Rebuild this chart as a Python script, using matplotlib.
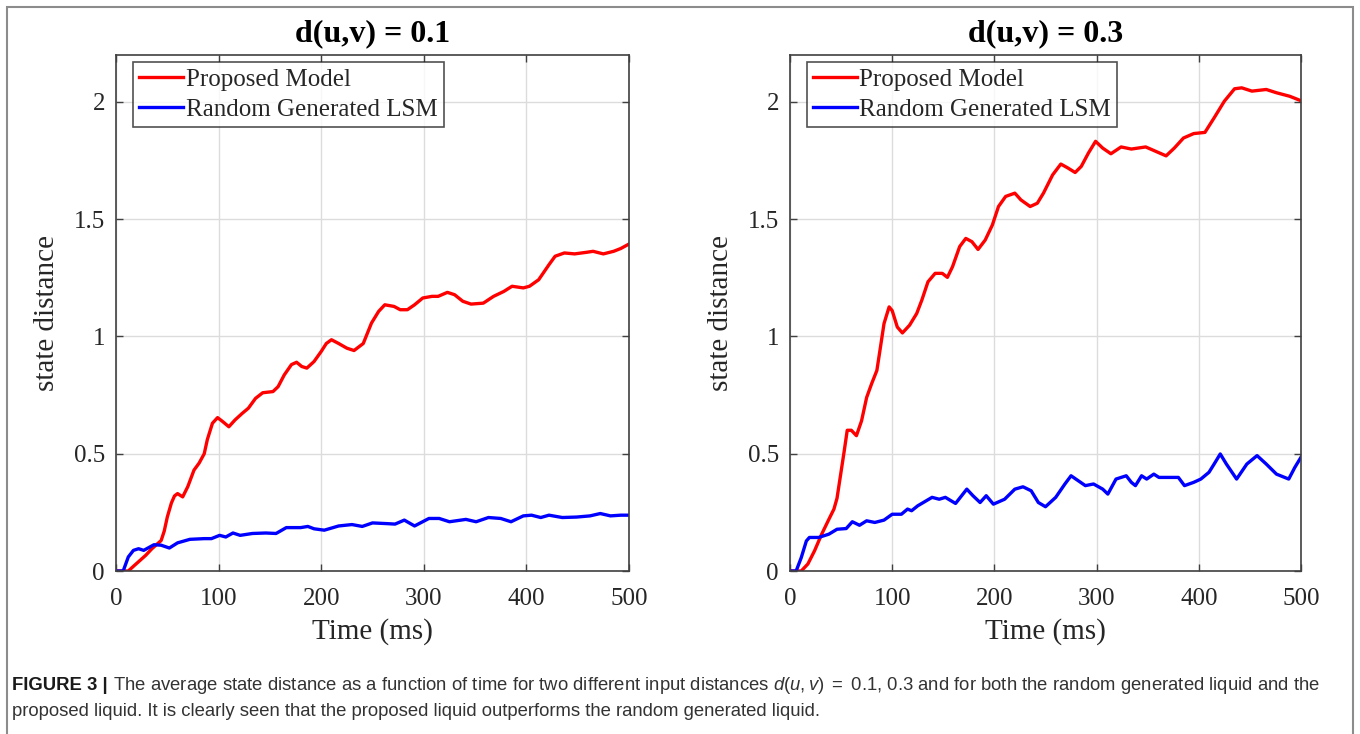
import numpy as np
import matplotlib
matplotlib.use("Agg")
import matplotlib.pyplot as plt
from matplotlib.patches import Rectangle

# d(u,v) = 0.1
t_red_1 = [0, 5, 12, 18, 29, 35, 44, 47, 50, 54, 57, 60, 65, 70, 76, 81, 86, 89, 94, 99,
           104, 110, 116, 123, 129, 136, 143, 153, 158, 164, 171, 176, 181, 186, 193, 200,
           205, 210, 217, 225, 232, 241, 249, 256, 262, 271, 277, 284, 291, 299, 308, 314,
           323, 330, 338, 346, 358, 368, 378, 386, 397, 403, 412, 422, 428, 437, 447, 459,
           465, 475, 485, 492, 500]
y_red_1 = [0, 0, 0, .024, .067, .095, .13, .17, .23, .29, .32, .33, .316, .36, .43, .46, .50,
           .56, .63, .654, .637, .615, .644, .672, .694, .736, .76, .765, .786, .836, .88,
           .89, .872, .865, .893, .936, .97, .986, .97, .95, .94, .97, 1.057, 1.107, 1.135,
           1.128, 1.114, 1.114, 1.135, 1.164, 1.171, 1.171, 1.188, 1.178, 1.15, 1.138,
           1.142, 1.171, 1.192, 1.214, 1.207, 1.214, 1.242, 1.306, 1.342, 1.356, 1.352,
           1.359, 1.363, 1.352, 1.363, 1.375, 1.394]
t_blue_1 = [0, 7, 12, 17, 22, 27, 32, 37, 44, 52, 60, 72, 86, 93, 101, 107, 114, 121, 133,
            146, 156, 166, 180, 187, 193, 203, 217, 230, 240, 250, 264, 272, 281, 291, 305,
            315, 325, 341, 351, 363, 375, 385, 397, 405, 414, 422, 435, 449, 462, 472, 482,
            492, 500]
y_blue_1 = [0, 0, .06, .088, .095, .088, .10, .112, .11, .098, .12, .135, .138, .138, .152,
            .145, .162, .152, .16, .162, .16, .185, .185, .19, .18, .174, .192, .198, .19,
            .205, .202, .20, .217, .192, .224, .224, .21, .22, .21, .228, .224, .21, .235,
            .238, .228, .238, .228, .23, .235, .245, .235, .238, .238]

# d(u,v) = 0.3
t_red_3 = [0, 4, 11, 17.5, 24, 31, 38, 43, 46, 49.5, 53, 56, 60, 65, 70, 75, 80, 85, 88,
           92, 97, 100, 105, 110, 117, 124, 129, 135, 142, 149, 154, 159, 166, 172, 178,
           184, 191, 198, 204, 211, 220, 226, 235, 242, 248, 257, 265, 272, 279, 285, 292,
           299, 306, 314, 324, 334, 348, 358, 368, 376, 385, 395, 406, 415, 425, 435, 442,
           452, 466, 476, 489, 500]
y_red_3 = [0, 0, 0, .03, .086, .157, .22, .264, .31, .41, .51, .6, .6, .577, .64, .74, .80,
           .855, .94, 1.055, 1.126, 1.11, 1.04, 1.015, 1.048, 1.098, 1.155, 1.233, 1.269,
           1.269, 1.252, 1.297, 1.383, 1.418, 1.404, 1.371, 1.411, 1.475, 1.554, 1.597,
           1.611, 1.582, 1.554, 1.568, 1.611, 1.689, 1.735, 1.718, 1.699, 1.725, 1.782,
           1.832, 1.803, 1.779, 1.808, 1.799, 1.808, 1.789, 1.77, 1.803, 1.846, 1.865,
           1.87, 1.932, 2.003, 2.056, 2.06, 2.046, 2.053, 2.039, 2.024, 2.005]
t_blue_3 = [0, 6, 11, 16, 19, 28, 38, 46, 55, 61, 68, 75, 83, 92, 100, 109, 115, 119, 125,
            139, 146, 152, 162, 173, 179, 186, 192, 199, 210, 220, 228, 236, 243, 250, 260,
            269, 275, 282, 289, 297, 306, 311, 319, 329, 334, 338, 344, 349, 356, 361, 371,
            380, 386, 395, 402, 410, 415, 421, 427, 437, 447, 457, 466, 476, 488, 494, 500]
y_blue_3 = [0, 0, .057, .128, .143, .143, .157, .178, .181, .21, .195, .214, .207, .217,
            .242, .242, .264, .257, .278, .314, .306, .314, .288, .349, .321, .292, .321,
            .285, .306, .349, .359, .342, .292, .274, .314, .371, .406, .385, .364, .371,
            .349, .328, .392, .406, .378, .364, .406, .392, .413, .399, .399, .399, .364,
            .378, .392, .421, .456, .499, .456, .392, .456, .492, .456, .413, .392, .442,
            .485]

titles = ["d(u,v) = 0.1", "d(u,v) = 0.3"]
labels = ["Proposed Model", "Random Generated LSM"]
xticks = [0, 100, 200, 300, 400, 500]
yticks = [0, 0.5, 1, 1.5, 2]
ytick_labels = ["0", "0.5", "1", "1.5", "2"]

plt.rcParams["font.family"] = ["Liberation Serif", "DejaVu Serif"]
plt.rcParams["mathtext.fontset"] = "custom"
plt.rcParams["mathtext.rm"] = "Liberation Sans"
plt.rcParams["mathtext.it"] = "Liberation Sans:italic"

fig = plt.figure(figsize=(13.6, 7.34), dpi=100)
W, H = 1360, 734

# outer frame
fig.patches.append(Rectangle((7 / W, -0.02), 1346 / W, 1 - 7 / H + 0.02,
                             transform=fig.transFigure, fill=False,
                             edgecolor="#8c8c8c", lw=1.5))

ax1 = fig.add_axes([116 / W, 1 - 571 / H, 513 / W, 516 / H])
ax2 = fig.add_axes([790 / W, 1 - 571 / H, 511 / W, 516 / H])

series = [(ax1, t_red_1, y_red_1, t_blue_1, y_blue_1),
          (ax2, t_red_3, y_red_3, t_blue_3, y_blue_3)]

for i, (ax, tr, yr, tb, yb) in enumerate(series):
    ax.plot(tr, yr, color="#ff0000", lw=2.4, label=labels[0])
    ax.plot(tb, yb, color="#0000ff", lw=2.4, label=labels[1])
    ax.set_xlim(0, 500)
    ax.set_ylim(0, 2.2)
    ax.set_xticks(xticks)
    ax.set_yticks(yticks)
    ax.set_yticklabels(ytick_labels)
    ax.grid(True, color="#dcdcdc", lw=1)
    ax.set_axisbelow(True)
    ax.tick_params(direction="in", top=True, right=True, length=5, width=1,
                   color="#404040", labelsize=18, labelcolor="#262626")
    ax.tick_params(axis="x", pad=12)
    ax.tick_params(axis="y", pad=8)
    for s in ax.spines.values():
        s.set_color("#404040")
        s.set_linewidth(1.2)
    ax.set_title(titles[i], fontsize=23, fontweight="bold", pad=10)
    ax.set_xlabel("Time (ms)", fontsize=21, color="#262626", labelpad=6)
    ax.set_ylabel("state distance", fontsize=21, color="#262626", labelpad=10)
    leg = ax.legend(loc="upper left", bbox_to_anchor=(17 / 513, 1 - 7 / 516),
                    borderaxespad=0, fontsize=18, frameon=True, fancybox=False,
                    edgecolor="#262626", handlelength=1.75, handletextpad=0.1,
                    borderpad=0.25, labelspacing=0.3)
    leg.get_frame().set_linewidth(1.2)
    for txt in leg.get_texts():
        txt.set_color("#262626")

# caption
cap_font = ["Liberation Sans", "DejaVu Sans"]
cap_size = 13.3
y1 = 1 - 686 / H
y2 = 1 - 712 / H
head = fig.text(12 / W, y1, "FIGURE 3 |", fontsize=cap_size, fontweight="bold",
                family=cap_font, color="#1a1a1a", va="center")
fig.canvas.draw()
bb = head.get_window_extent(renderer=fig.canvas.get_renderer())
fig.text((bb.x1 + 5) / W, y1,
         "The average state distance as a function of time for two different input distances "
         r"$d(u,v)\ =\ \mathrm{0.1}$, 0.3 and for both the random generated liquid and the",
         fontsize=cap_size, family=cap_font, color="#333333", va="center")
fig.text(12 / W, y2,
         "proposed liquid. It is clearly seen that the proposed liquid outperforms the random generated liquid.",
         fontsize=cap_size, family=cap_font, color="#333333", va="center")

fig.savefig("out.png", dpi=100)
